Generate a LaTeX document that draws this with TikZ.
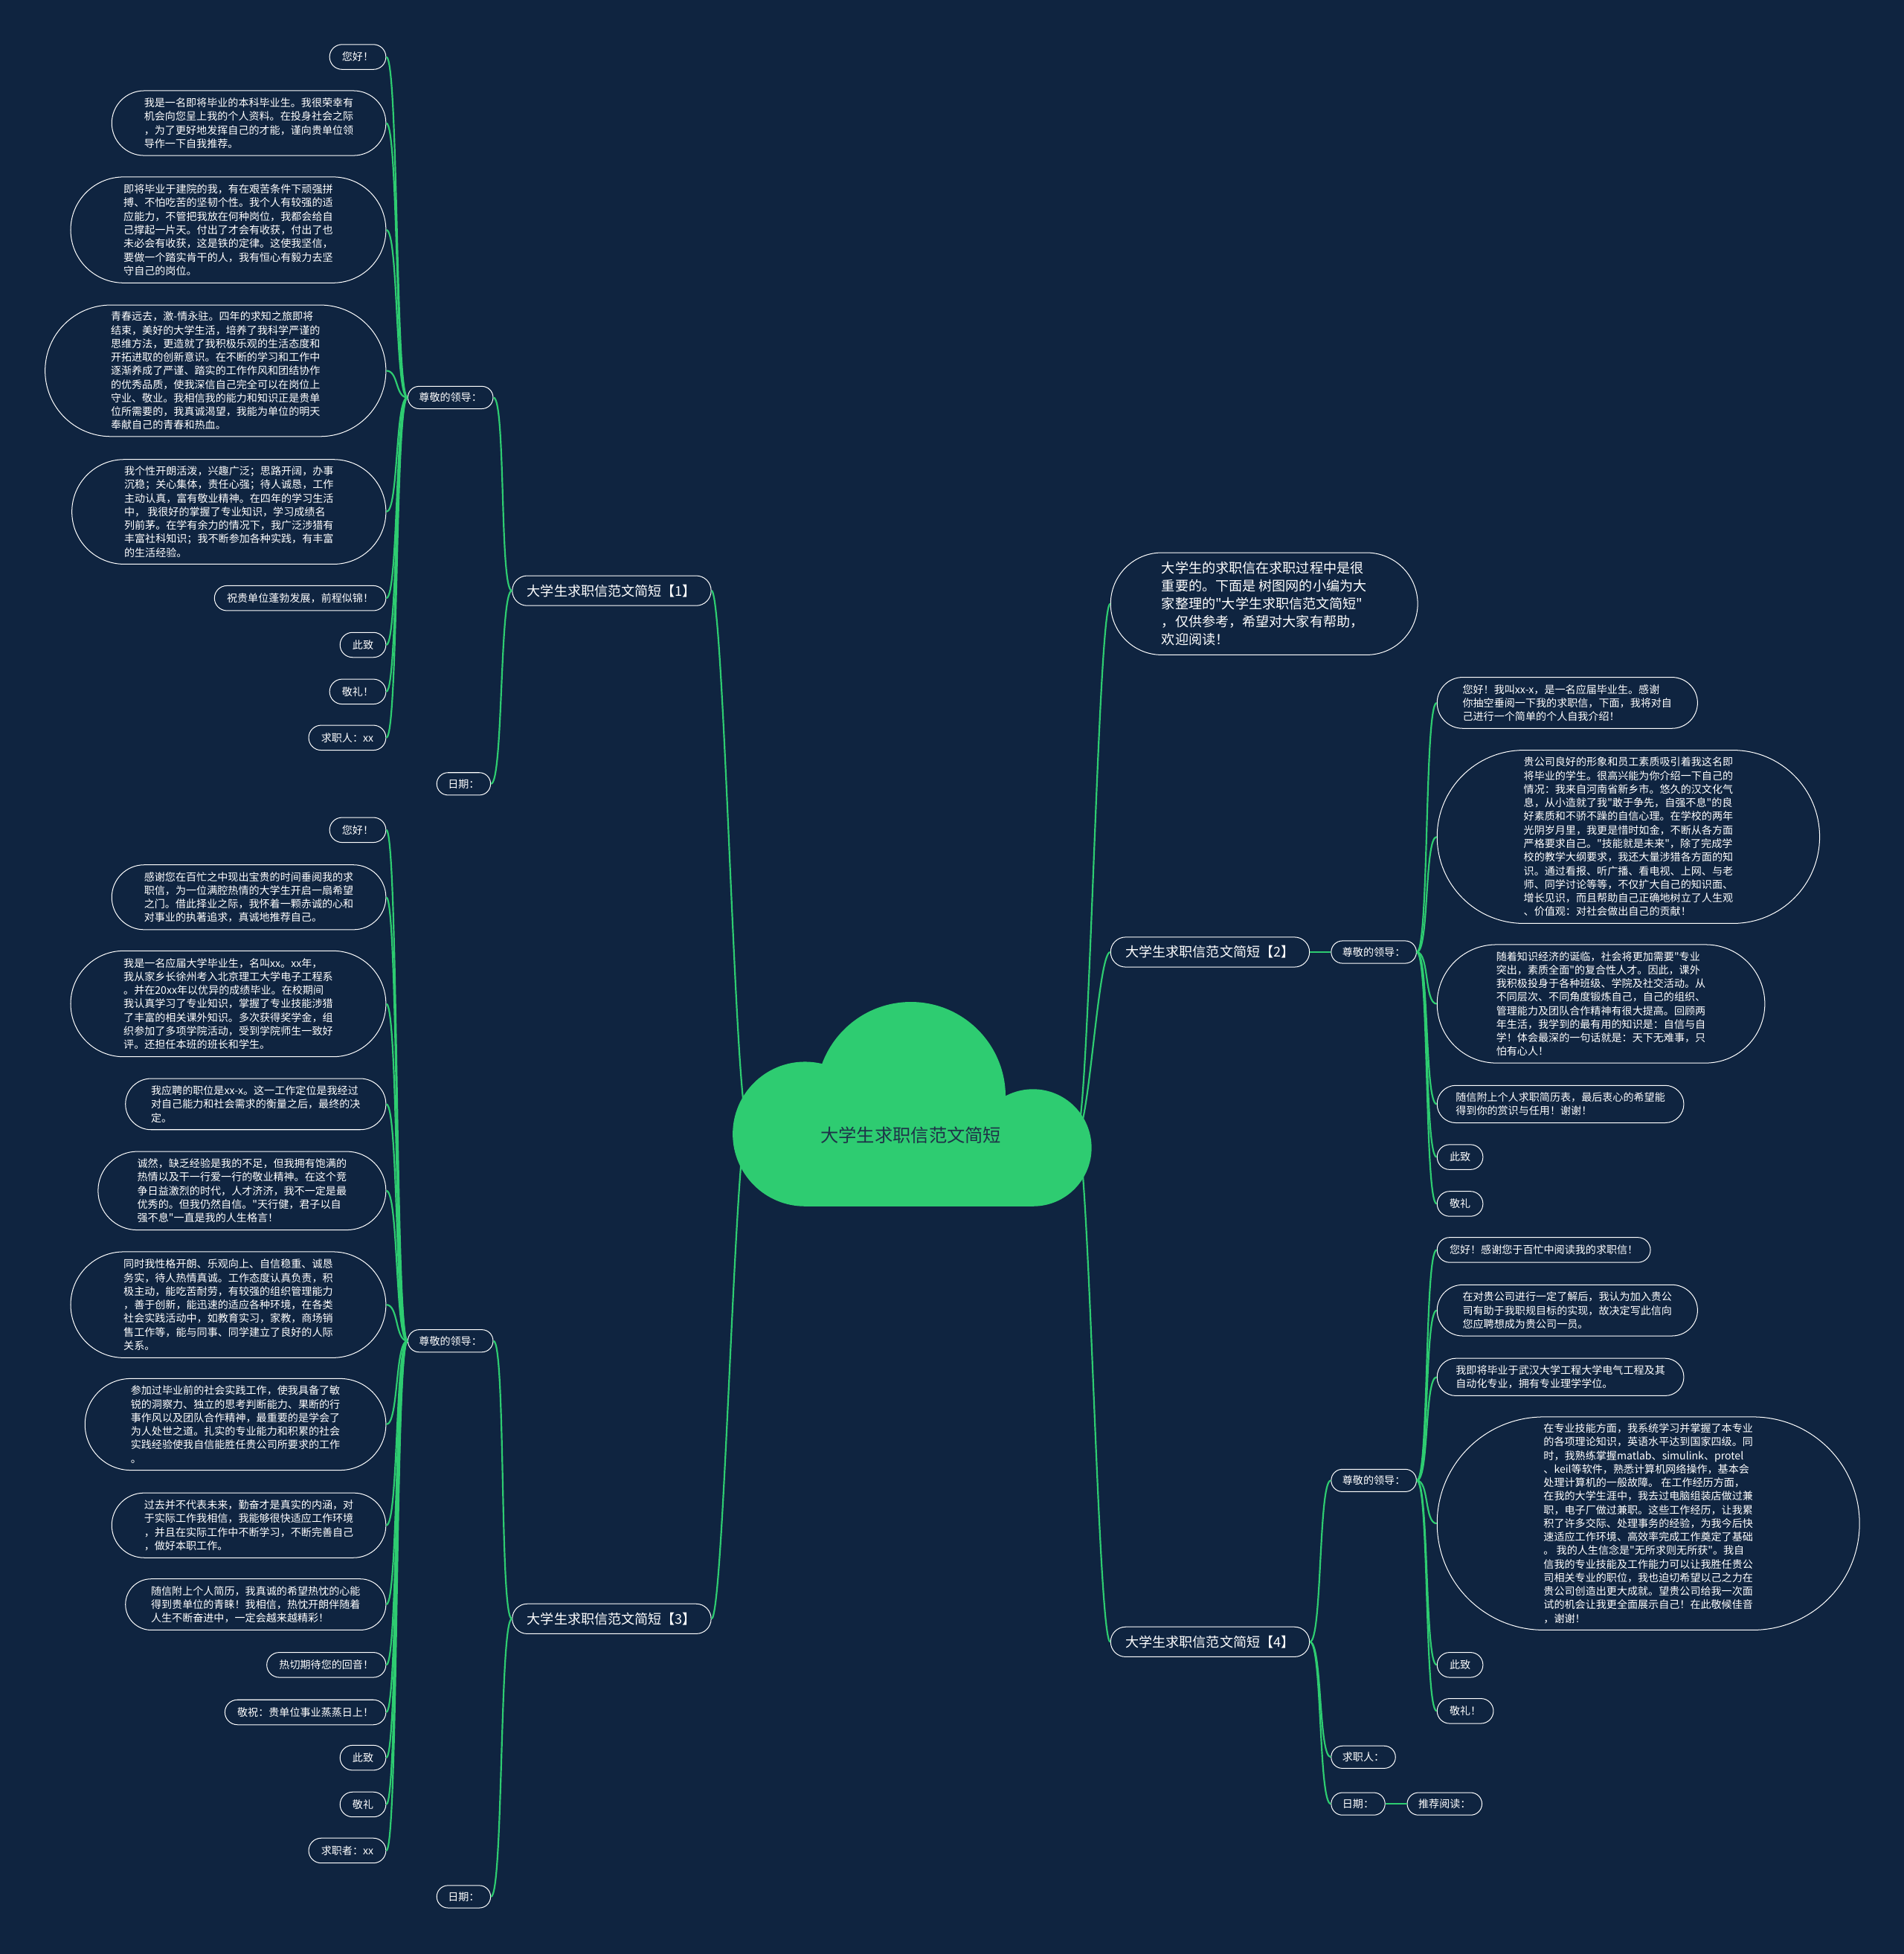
\documentclass[tikz,border=0pt]{standalone}
\usepackage{fontspec}
\setmainfont{Noto Sans CJK SC}[Ligatures=TeXOff]

\definecolor{mmbg}{RGB}{15,36,64}
\definecolor{mmgreen}{RGB}{46,204,113}
\definecolor{mmroottext}{RGB}{30,50,72}

\tikzset{
  mmleaf/.style={rectangle, draw=white, line width=.6pt, fill=mmbg, text=white,
    rounded corners=#1, inner xsep=#1, inner ysep=1pt, minimum height=2*#1,
    align=left, font=\fontsize{8.4}{10.9}\selectfont},
  mmbranch/.style={mmleaf=12pt, font=\fontsize{10.8}{14.3}\selectfont},
  mmintro/.style={mmleaf=41pt, font=\fontsize{10.8}{14.3}\selectfont},
  mmlink/.style={draw=mmgreen, line width=1.3pt},
  mmleft/.style={mmlink, to path={.. controls +(-10,0) and +(10,0) .. (\tikztotarget)}},
  mmright/.style={mmlink, to path={.. controls +(10,0) and +(-10,0) .. (\tikztotarget)}}
}

\begin{document}
\begin{tikzpicture}[x=1pt, y=-1pt]
\useasboundingbox (0,0) rectangle (1528,1568);
\fill[mmbg] (0,0) rectangle (1528,1568);

% branches
\node[mmbranch, anchor=east] (b1) at (571,474) {大学生求职信范文简短【1】};
\node[mmbranch, anchor=east] (b3) at (571,1299) {大学生求职信范文简短【3】};
\node[mmbranch, anchor=west] (b2) at (891,764) {大学生求职信范文简短【2】};
\node[mmbranch, anchor=west] (b4) at (891,1317.5) {大学生求职信范文简短【4】};

\node[mmintro, anchor=west] (intro) at (891,484.5) {大学生的求职信在求职过程中是很\\
重要的。下面是 树图网的小编为大\\
家整理的"大学生求职信范文简短"\\
，仅供参考，希望对大家有帮助，\\
欢迎阅读！};

% branch 1
\node[mmleaf=9pt, anchor=east] (s1) at (396,319) {尊敬的领导：};
\node[mmleaf=9pt, anchor=east] (d1) at (394,629) {日期：};

\node[mmleaf=10pt, anchor=east] (l1a) at (310,45.7) {您好！};
\node[mmleaf=26pt, anchor=east] (l1b) at (310,98.8) {我是一名即将毕业的本科毕业生。我很荣幸有\\
机会向您呈上我的个人资料。在投身社会之际\\
，为了更好地发挥自己的才能，谨向贵单位领\\
导作一下自我推荐。};
\node[mmleaf=42.5pt, anchor=east] (l1c) at (310,184.5) {即将毕业于建院的我，有在艰苦条件下顽强拼\\
搏、不怕吃苦的坚韧个性。我个人有较强的适\\
应能力，不管把我放在何种岗位，我都会给自\\
己撑起一片天。付出了才会有收获，付出了也\\
未必会有收获，这是铁的定律。这使我坚信，\\
要做一个踏实肯干的人，我有恒心有毅力去坚\\
守自己的岗位。};
\node[mmleaf=52.75pt, anchor=east] (l1d) at (310,297.5) {青春远去，激-情永驻。四年的求知之旅即将\\
结束，美好的大学生活，培养了我科学严谨的\\
思维方法，更造就了我积极乐观的生活态度和\\
开拓进取的创新意识。在不断的学习和工作中\\
逐渐养成了严谨、踏实的工作作风和团结协作\\
的优秀品质，使我深信自己完全可以在岗位上\\
守业、敬业。我相信我的能力和知识正是贵单\\
位所需要的，我真诚渴望，我能为单位的明天\\
奉献自己的青春和热血。};
\node[mmleaf=42pt, anchor=east] (l1e) at (310,410.7) {我个性开朗活泼，兴趣广泛；思路开阔，办事\\
沉稳；关心集体，责任心强；待人诚恳，工作\\
主动认真，富有敬业精神。在四年的学习生活\\
中， 我很好的掌握了专业知识，学习成绩名\\
列前茅。在学有余力的情况下，我广泛涉猎有\\
丰富社科知识；我不断参加各种实践，有丰富\\
的生活经验。};
\node[mmleaf=10pt, anchor=east] (l1f) at (310,480) {祝贵单位蓬勃发展，前程似锦！};
\node[mmleaf=10pt, anchor=east] (l1g) at (310,517.5) {此致};
\node[mmleaf=10pt, anchor=east] (l1h) at (310,555) {敬礼！};
\node[mmleaf=10pt, anchor=east] (l1i) at (310,592) {求职人：xx};

% branch 3
\node[mmleaf=9pt, anchor=east] (s3) at (396,1076) {尊敬的领导：};
\node[mmleaf=9pt, anchor=east] (d3) at (394,1522) {日期：};

\node[mmleaf=10pt, anchor=east] (l3a) at (310,666) {您好！};
\node[mmleaf=26pt, anchor=east] (l3b) at (310,720) {感谢您在百忙之中现出宝贵的时间垂阅我的求\\
职信，为一位满腔热情的大学生开启一扇希望\\
之门。借此择业之际，我怀着一颗赤诚的心和\\
对事业的执著追求，真诚地推荐自己。};
\node[mmleaf=42.5pt, anchor=east] (l3c) at (310,805.5) {我是一名应届大学毕业生，名叫xx。xx年，\\
我从家乡长徐州考入北京理工大学电子工程系\\
。并在20xx年以优异的成绩毕业。在校期间\\
我认真学习了专业知识，掌握了专业技能涉猎\\
了丰富的相关课外知识。多次获得奖学金，组\\
织参加了多项学院活动，受到学院师生一致好\\
评。还担任本班的班长和学生。};
\node[mmleaf=20.5pt, anchor=east] (l3d) at (310,886) {我应聘的职位是xx-x。这一工作定位是我经过\\
对自己能力和社会需求的衡量之后，最终的决\\
定。};
\node[mmleaf=31.5pt, anchor=east] (l3e) at (310,955.5) {诚然，缺乏经验是我的不足，但我拥有饱满的\\
热情以及干一行爱一行的敬业精神。在这个竞\\
争日益激烈的时代，人才济济，我不一定是最\\
优秀的。但我仍然自信。"天行健，君子以自\\
强不息"一直是我的人生格言！};
\node[mmleaf=42.5pt, anchor=east] (l3f) at (310,1047) {同时我性格开朗、乐观向上、自信稳重、诚恳\\
务实，待人热情真诚。工作态度认真负责，积\\
极主动，能吃苦耐劳，有较强的组织管理能力\\
，善于创新，能迅速的适应各种环境，在各类\\
社会实践活动中，如教育实习，家教，商场销\\
售工作等，能与同事、同学建立了良好的人际\\
关系。};
\node[mmleaf=36.75pt, anchor=east] (l3g) at (310,1143) {参加过毕业前的社会实践工作，使我具备了敏\\
锐的洞察力、独立的思考判断能力、果断的行\\
事作风以及团队合作精神，最重要的是学会了\\
为人处世之道。扎实的专业能力和积累的社会\\
实践经验使我自信能胜任贵公司所要求的工作\\
。};
\node[mmleaf=26pt, anchor=east] (l3h) at (310,1224) {过去并不代表未来，勤奋才是真实的内涵，对\\
于实际工作我相信，我能够很快适应工作环境\\
，并且在实际工作中不断学习，不断完善自己\\
，做好本职工作。};
\node[mmleaf=20.5pt, anchor=east] (l3i) at (310,1287.5) {随信附上个人简历，我真诚的希望热忱的心能\\
得到贵单位的青睐！我相信，热忱开朗伴随着\\
人生不断奋进中，一定会越来越精彩！};
\node[mmleaf=10pt, anchor=east] (l3j) at (310,1336) {热切期待您的回音！};
\node[mmleaf=10pt, anchor=east] (l3k) at (310,1374) {敬祝：贵单位事业蒸蒸日上！};
\node[mmleaf=10pt, anchor=east] (l3l) at (310,1410.5) {此致};
\node[mmleaf=10pt, anchor=east] (l3m) at (310,1448) {敬礼};
\node[mmleaf=10pt, anchor=east] (l3n) at (310,1485) {求职者：xx};

% branch 2
\node[mmleaf=9pt, anchor=west] (s2) at (1068,764) {尊敬的领导：};

\node[mmleaf=20.5pt, anchor=west] (l2a) at (1153,564) {您好！我叫xx-x，是一名应届毕业生。感谢\\
你抽空垂阅一下我的求职信，下面，我将对自\\
己进行一个简单的个人自我介绍！};
\node[mmleaf=69.5pt, anchor=west] (l2b) at (1153,671.5) {贵公司良好的形象和员工素质吸引着我这名即\\
将毕业的学生。很高兴能为你介绍一下自己的\\
情况：我来自河南省新乡市。悠久的汉文化气\\
息，从小造就了我"敢于争先，自强不息"的良\\
好素质和不骄不躁的自信心理。在学校的两年\\
光阴岁月里，我更是惜时如金，不断从各方面\\
严格要求自己。"技能就是未来"，除了完成学\\
校的教学大纲要求，我还大量涉猎各方面的知\\
识。通过看报、听广播、看电视、上网、与老\\
师、同学讨论等等，不仅扩大自己的知识面、\\
增长见识，而且帮助自己正确地树立了人生观\\
、价值观：对社会做出自己的贡献！};
\node[mmleaf=47.5pt, anchor=west] (l2c) at (1153,805.5) {随着知识经济的诞临，社会将更加需要"专业\\
突出，素质全面"的复合性人才。因此，课外\\
我积极投身于各种班级、学院及社交活动。从\\
不同层次、不同角度锻炼自己，自己的组织、\\
管理能力及团队合作精神有很大提高。回顾两\\
年生活，我学到的最有用的知识是：自信与自\\
学！体会最深的一句话就是：天下无难事，只\\
怕有心人！};
\node[mmleaf=15pt, anchor=west] (l2d) at (1153,886) {随信附上个人求职简历表，最后衷心的希望能\\
得到你的赏识与任用！谢谢！};
\node[mmleaf=10pt, anchor=west] (l2e) at (1153,928.5) {此致};
\node[mmleaf=10pt, anchor=west] (l2f) at (1153,966) {敬礼};

% branch 4
\node[mmleaf=9pt, anchor=west] (s4) at (1068,1188) {尊敬的领导：};
\node[mmleaf=9pt, anchor=west] (r4) at (1068,1410) {求职人：};
\node[mmleaf=9pt, anchor=west] (d4) at (1068,1447.5) {日期：};
\node[mmleaf=9pt, anchor=west] (t4) at (1129,1447.5) {推荐阅读：};

\node[mmleaf=10pt, anchor=west] (l4a) at (1153,1003) {您好！感谢您于百忙中阅读我的求职信！};
\node[mmleaf=20.5pt, anchor=west] (l4b) at (1153,1051.5) {在对贵公司进行一定了解后，我认为加入贵公\\
司有助于我职规目标的实现，故决定写此信向\\
您应聘想成为贵公司一员。};
\node[mmleaf=15pt, anchor=west] (l4c) at (1153,1105) {我即将毕业于武汉大学工程大学电气工程及其\\
自动化专业，拥有专业理学学位。};
\node[mmleaf=85.5pt, anchor=west] (l4d) at (1153,1222.5) {在专业技能方面，我系统学习并掌握了本专业\\
的各项理论知识，英语水平达到国家四级。同\\
时，我熟练掌握matlab、simulink、protel\\
、keil等软件，熟悉计算机网络操作，基本会\\
处理计算机的一般故障。 在工作经历方面，\\
在我的大学生涯中，我去过电脑组装店做过兼\\
职，电子厂做过兼职。这些工作经历，让我累\\
积了许多交际、处理事务的经验，为我今后快\\
速适应工作环境、高效率完成工作奠定了基础\\
。 我的人生信念是"无所求则无所获"。我自\\
信我的专业技能及工作能力可以让我胜任贵公\\
司相关专业的职位，我也迫切希望以己之力在\\
贵公司创造出更大成就。望贵公司给我一次面\\
试的机会让我更全面展示自己！在此敬候佳音\\
，谢谢！};
\node[mmleaf=10pt, anchor=west] (l4e) at (1153,1336) {此致};
\node[mmleaf=10pt, anchor=west] (l4f) at (1153,1373) {敬礼！};

% links
\coordinate (rootw) at (600,900);
\coordinate (roote) at (864,910);

\draw[mmleft] (rootw) to (b1.east);
\draw[mmleft] (rootw) to (b3.east);
\draw[mmright] (roote) to (intro.west);
\draw[mmright] (roote) to (b2.west);
\draw[mmright] (roote) to (b4.west);

\draw[mmleft] (b1.west) to (s1.east);
\draw[mmleft] (b1.west) to (d1.east);
\draw[mmleft] (b3.west) to (s3.east);
\draw[mmleft] (b3.west) to (d3.east);
\draw[mmright] (b2.east) to (s2.west);
\draw[mmright] (b4.east) to (s4.west);
\draw[mmright] (b4.east) to (r4.west);
\draw[mmright] (b4.east) to (d4.west);
\draw[mmright] (d4.east) to (t4.west);

\foreach \n in {a,b,c,d,e,f,g,h,i}
  \draw[mmleft] (s1.west) to (l1\n.east);
\foreach \n in {a,b,c,d,e,f,g,h,i,j,k,l,m,n}
  \draw[mmleft] (s3.west) to (l3\n.east);
\foreach \n in {a,b,c,d,e,f}
  \draw[mmright] (s2.east) to (l2\n.west);
\foreach \n in {a,b,c,d,e,f}
  \draw[mmright] (s4.east) to (l4\n.west);

% central cloud
\fill[mmgreen] (646,910) circle[radius=58];
\fill[mmgreen] (829,921) circle[radius=47];
\fill[mmgreen] (731,880) circle[radius=76];
\fill[mmgreen] (646,900) rectangle (829,968);
\node[font=\fontsize{14.5}{17}\selectfont, text=mmroottext] (root) at (731,911) {大学生求职信范文简短};
\end{tikzpicture}
\end{document}
